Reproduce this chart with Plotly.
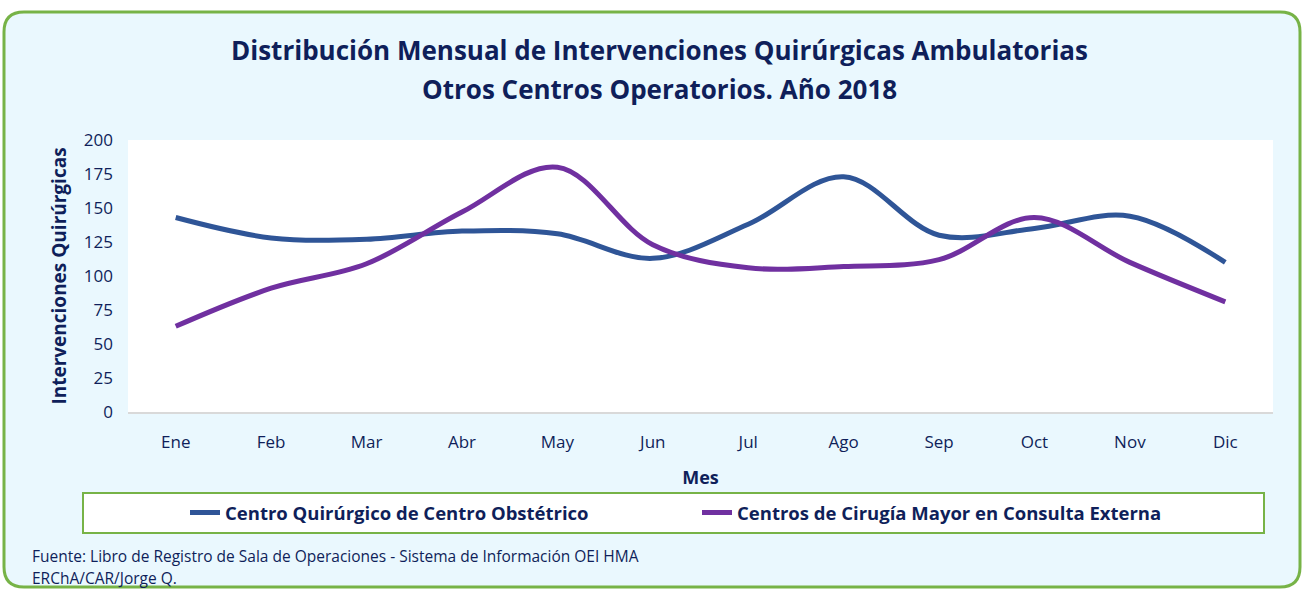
import plotly.graph_objects as go

# Monthly ambulatory surgical interventions, 2018
meses = ["Ene", "Feb", "Mar", "Abr", "May", "Jun", "Jul", "Ago", "Sep", "Oct", "Nov", "Dic"]
centro_obstetrico = [143, 128, 127, 133, 131, 113, 138, 173, 130, 135, 144, 110]
cirugia_mayor = [63, 91, 109, 147, 180, 123, 106, 107, 112, 143, 110, 81]
y_ticks = [0, 25, 50, 75, 100, 125, 150, 175, 200]

W, H = 1303, 589
ML, MR, MT, MB = 128, 30, 140, 177
PW, PH = W - ML - MR, H - MT - MB

NAVY = "#0f1f5a"
GREEN = "#77b347"
BG = "#eaf8fe"
FONT = "Open Sans"


def fx(px):
    return (px - ML) / PW


def fy(py):
    return (H - MB - py) / PH


def rounded_box(x0, y0, x1, y1, r):
    rx, ry = r / PW, r / PH
    a, b, c, d = fx(x0), fx(x1), fy(y0), fy(y1)
    return (f"M {a + rx} {c} L {b - rx} {c} Q {b} {c} {b} {c - ry} "
            f"L {b} {d + ry} Q {b} {d} {b - rx} {d} L {a + rx} {d} "
            f"Q {a} {d} {a} {d + ry} L {a} {c - ry} Q {a} {c} {a + rx} {c} Z")


fig = go.Figure()
fig.add_trace(go.Scatter(
    x=meses, y=centro_obstetrico, mode="lines",
    name="Centro Quirúrgico de Centro Obstétrico",
    line=dict(color="#2f5597", width=5, shape="spline", smoothing=1),
))
fig.add_trace(go.Scatter(
    x=meses, y=cirugia_mayor, mode="lines",
    name="Centros de Cirugía Mayor en Consulta Externa",
    line=dict(color="#7030a0", width=5, shape="spline", smoothing=1),
))

shapes = [
    # outer panel
    dict(type="path", xref="paper", yref="paper", layer="below",
         path=rounded_box(4, 12, 1300, 587, 20),
         fillcolor=BG, line=dict(color=GREEN, width=3)),
    # plot area
    dict(type="rect", xref="paper", yref="paper", layer="below",
         x0=0, x1=1, y0=0, y1=1, fillcolor="white", line=dict(width=0)),
    # legend frame
    dict(type="rect", xref="paper", yref="paper", layer="below",
         x0=fx(83), x1=fx(1264), y0=fy(533), y1=fy(493),
         fillcolor="white", line=dict(color=GREEN, width=2)),
]


def label(text, px, py, size, anchor="center"):
    return dict(text=text, x=fx(px), y=fy(py), xref="paper", yref="paper",
                showarrow=False, xanchor=anchor, yanchor="middle",
                font=dict(family=FONT, size=size, color=NAVY))


annotations = [
    label("<b>Distribución Mensual de Intervenciones Quirúrgicas Ambulatorias</b>", 659, 50, 26),
    label("<b>Otros Centros Operatorios. Año 2018</b>", 659, 89, 26),
    label("Fuente: Libro de Registro de Sala de Operaciones - Sistema de Información OEI HMA",
          30, 556, 15.5, "left"),
    label("ERChA/CAR/Jorge Q.", 30, 578, 15.5, "left"),
]

fig.update_layout(
    width=W, height=H,
    margin=dict(l=ML, r=MR, t=MT, b=MB, pad=0),
    paper_bgcolor="white", plot_bgcolor="white",
    font=dict(family=FONT, color=NAVY),
    shapes=shapes, annotations=annotations,
    showlegend=True,
    legend=dict(orientation="h", x=fx(185), y=fy(513), xanchor="left", yanchor="middle",
                bgcolor="rgba(0,0,0,0)", borderwidth=0,
                font=dict(family=FONT, size=18.5, color=NAVY, weight="bold"),
                entrywidth=467, itemwidth=30),
)
fig.update_xaxes(
    range=[-0.5, 11.5], showgrid=False, zeroline=False,
    showline=True, linecolor="#d9d9d9", linewidth=1.5,
    ticks="", tickfont=dict(family=FONT, size=17, color=NAVY),
    ticklabelstandoff=14,
    title=dict(text="<b>Mes</b>", font=dict(family=FONT, size=18, color=NAVY), standoff=19),
)
fig.update_yaxes(
    range=[0, 200], tickvals=y_ticks, showgrid=False, zeroline=False,
    showline=False, ticks="", tickfont=dict(family=FONT, size=17, color=NAVY),
    ticklabelstandoff=14,
    title=dict(text="<b>Intervenciones Quirúrgicas</b>",
               font=dict(family=FONT, size=19, color=NAVY), standoff=12),
)

fig.write_html("out.html")
